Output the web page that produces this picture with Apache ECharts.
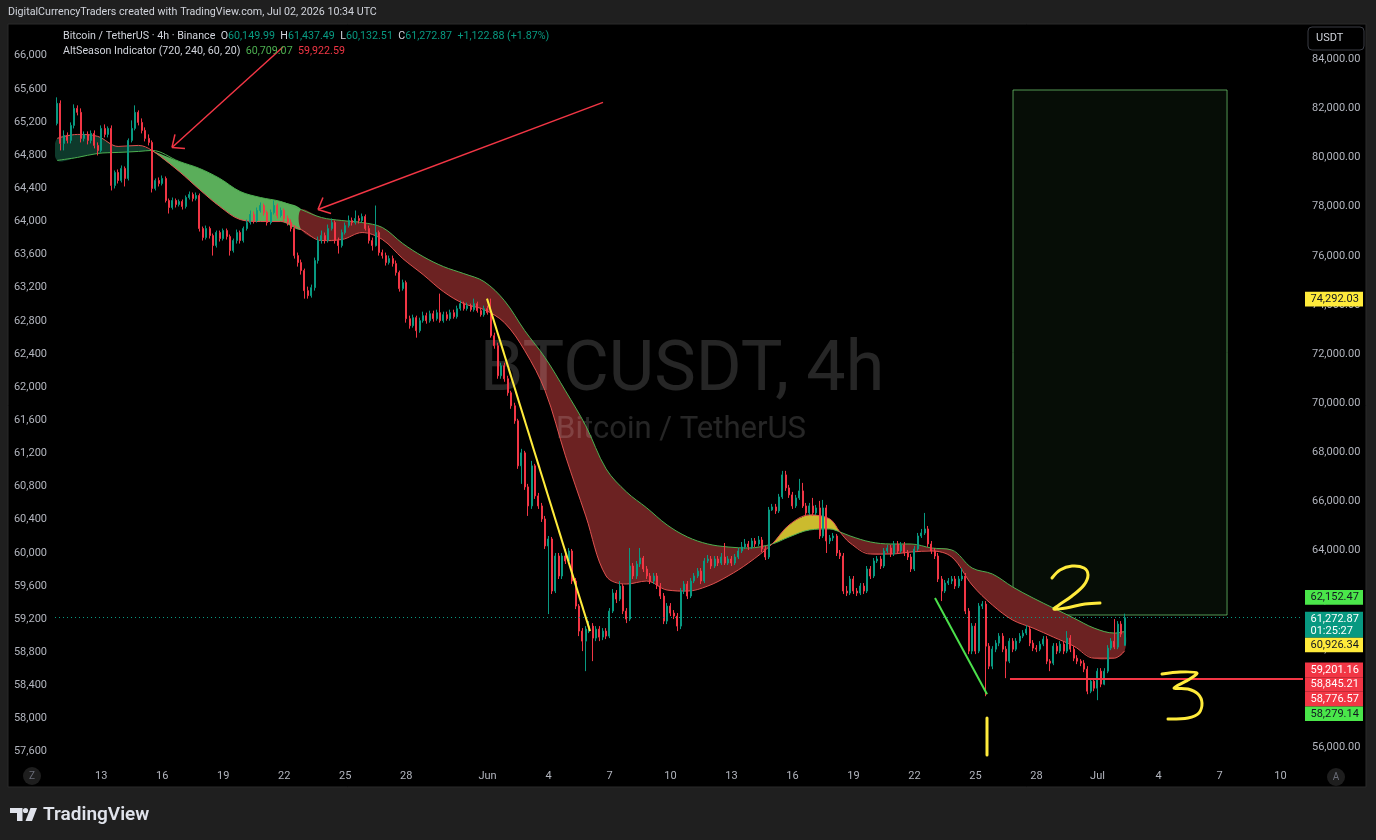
<!DOCTYPE html>
<html><head><meta charset="utf-8">
<script src="https://cdn.jsdelivr.net/npm/echarts@6/dist/echarts.min.js"></script>
<style>html,body{margin:0;padding:0;background:#1f1f1f;}#c{width:1376px;height:840px;}</style>
</head><body><div id="c"></div>
<script>
// time unit: hours since 2026-05-01 00:00 UTC; first candle May 10 20:00, 4h candles
const startHour = 236;
const stepHours = 4;
const opens = [81392,82207,80577,80902,80699,81310,82003,81840,80780,80943,80699,80984,80495,80291,81188,80943,81188,78865,79395,79068,79558,79150,80699,81188,81840,81432,81106,80780,80617,78743,79068,78946,79150,78253,77968,78253,78090,78212,78009,78375,78498,78335,78457,77112,76745,77112,76827,76419,76949,76705,77030,76786,76215,76623,76949,76623,77112,77356,77683,77438,77846,78049,77764,77356,77764,78049,77642,77846,77520,77356,77112,76011,75726,75400,74585,74381,74707,75808,76623,76827,76623,77112,77356,76623,76419,76949,77234,77438,77356,77520,77438,77601,77112,76623,76419,76949,76134,76011,75726,75889,75685,75319,74667,74911,73444,73159,73485,72955,73362,73566,73362,73648,73444,73688,73362,73607,73444,73688,73525,73852,74055,73852,73974,73811,74055,73770,73607,73852,73688,72751,72343,71121,71528,70998,70428,69898,69287,67453,67982,66597,65822,67453,66230,65822,65292,64192,64477,62358,63784,62970,63784,63581,63988,62766,61747,60728,60320,60809,60931,60442,60809,60483,60728,60524,61543,62277,62032,62562,61543,61217,63377,62970,63458,63703,63255,62970,62766,62970,62562,62155,61135,61747,61462,61339,60931,62358,62643,62155,62766,62970,63173,62766,63581,63662,63377,63662,63499,63743,63499,63662,63499,63743,63988,64151,64273,64151,64396,64273,64436,64070,63743,65659,65781,65619,66189,67086,66556,66271,65822,66149,66434,65822,65537,65822,65537,65741,64599,65741,64396,64518,64599,63907,63784,62358,62277,62847,62358,62277,62562,62358,63255,62970,63581,63662,63377,63988,64110,63866,64273,63988,64233,63907,63743,63255,64070,64599,64722,64885,64273,63988,63784,62847,62358,62684,62766,62847,62562,62847,62970,61543,59913,60931,59913,61747,61828,60116,59301,59994,60239,60524,59994,59505,60320,59994,60320,60524,60646,60809,60239,60035,59994,60198,60402,59505,59424,60116,59913,60198,59913,60442,59994,59627,59505,59424,59179,58282,58690,58404,59098,58567,59098,60035,60320,60076,61013,60149.99];
const closes = [82207,80577,80902,80699,81310,82003,81840,80780,80943,80699,80984,80495,80291,81188,80943,81188,78865,79395,79068,79558,79150,80699,81188,81840,81432,81106,80780,80617,78743,79068,78946,79150,78253,77968,78253,78090,78212,78009,78375,78498,78335,78457,77112,76745,77112,76827,76419,76949,76705,77030,76786,76215,76623,76949,76623,77112,77356,77683,77438,77846,78049,77764,77356,77764,78049,77642,77846,77520,77356,77112,76011,75726,75400,74585,74381,74707,75808,76623,76827,76623,77112,77356,76623,76419,76949,77234,77438,77356,77520,77438,77601,77112,76623,76419,76949,76134,76011,75726,75889,75685,75319,74667,74911,73444,73159,73485,72955,73362,73566,73362,73648,73444,73688,73362,73607,73444,73688,73525,73852,74055,73852,73974,73811,74055,73770,73607,73852,73688,72751,72343,71121,71528,70998,70428,69898,69287,67453,67982,66597,65822,67453,66230,65822,65292,64192,64477,62358,63784,62970,63784,63581,63988,62766,61747,60728,60320,60809,60931,60442,60809,60483,60728,60524,61543,62277,62032,62562,61543,61217,63377,62970,63458,63703,63255,62970,62766,62970,62562,62155,61135,61747,61462,61339,60931,62358,62643,62155,62766,62970,63173,62766,63581,63662,63377,63662,63499,63743,63499,63662,63499,63743,63988,64151,64273,64151,64396,64273,64436,64070,63743,65659,65781,65619,66189,67086,66556,66271,65822,66149,66434,65822,65537,65822,65537,65741,64599,65741,64396,64518,64599,63907,63784,62358,62277,62847,62358,62277,62562,62358,63255,62970,63581,63662,63377,63988,64110,63866,64273,63988,64233,63907,63743,63255,64070,64599,64722,64885,64273,63988,63784,62847,62358,62684,62766,62847,62562,62847,62970,61543,59913,60931,59913,61747,61828,60116,59301,59994,60239,60524,59994,59505,60320,59994,60320,60524,60646,60809,60239,60035,59994,60198,60402,59505,59424,60116,59913,60198,59913,60442,59994,59627,59505,59424,59179,58282,58690,58404,59098,58567,59098,60035,60320,60076,61013,60605,61272.87];
const highs = [82451,82329,81106,81024,81432,82166,82125,82003,81065,81065,81106,81106,80617,81310,81351,81270,81310,79476,79517,79680,79640,80780,81514,82125,81921,81595,81229,80943,80699,79150,79191,79272,79232,78335,78375,78335,78294,78294,78457,78620,78580,78580,78539,77193,77234,77193,76908,77030,77030,77112,77112,76868,76705,77071,77030,77193,77479,77846,77805,77968,78172,78131,77846,77886,78253,78131,77968,77927,77642,77479,77234,76134,75848,75482,74748,74830,75930,76786,77030,76949,77275,77520,77438,76745,77071,77356,77642,77560,77846,77642,77723,77683,77234,76745,78049,77030,76256,76134,76011,76011,75808,75400,75033,74993,73566,73607,73566,73485,73729,73688,73770,73770,73811,74463,73729,73729,73811,73811,73974,74178,74137,74096,74055,74259,74137,73892,73974,73974,74259,72873,72466,71651,71651,71121,70509,70021,69368,68145,68064,66719,67656,67534,66352,65944,65415,64599,64559,63907,63907,63907,64070,64110,64070,62888,61828,60850,60931,61135,61054,60931,60931,60850,60850,61665,62440,62399,62766,62643,61665,64110,63499,63581,64110,63784,63377,63092,63092,63092,62684,62277,61869,61869,61584,61462,62481,62766,62766,62888,63092,63295,63295,63703,63825,63784,63784,63784,63907,64314,63784,63784,63866,64110,64355,64477,64396,64518,64518,64599,64559,64192,65781,65904,65904,66312,67249,67249,66678,66393,66271,66923,66760,65944,65944,66149,65863,66026,66067,65863,64640,64722,64681,64029,63907,62562,62970,62970,62481,62684,62684,63377,63377,63703,63784,63784,64110,64233,64233,64396,64396,64355,64355,64029,63866,64192,64722,64885,65537,65007,64396,64110,63907,62970,62807,62888,62970,62970,62970,63295,63092,61665,61054,61054,61869,61950,61950,60239,60116,60361,60646,60646,60116,60442,60442,60442,60646,60768,60972,60931,60361,60157,60320,60524,60524,59586,60239,60239,60320,60320,60728,60565,60116,59749,59586,59546,59301,58812,58812,59220,59220,59220,60157,60442,61217,61135,61135,61437.49];
const lows = [81310,80291,80291,80577,80577,81188,81718,80617,80658,80536,80577,80373,80087,80210,80821,80821,78661,78743,78946,78987,78824,79068,80617,81106,81310,80984,80658,80495,78580,78661,78824,78865,78172,77723,77886,77968,78009,77886,77927,78294,78212,78253,76990,76623,76664,76705,76011,76338,76582,76623,76664,76011,76134,76501,76501,76542,77030,77275,77316,77356,77764,77642,77234,77275,77683,77520,77560,77397,77234,76990,75889,75563,75237,74259,74259,74300,74585,75685,76501,76501,76542,77030,76501,76093,76338,76868,77153,77234,77275,77316,77356,77030,76501,76215,76378,76011,75889,75604,75645,75563,75196,74544,74585,73281,73036,73077,72670,72873,73281,73240,73281,73322,73362,73281,73281,73362,73362,73444,73444,73770,73770,73770,73729,73729,73688,73525,73525,73607,72670,72221,70998,70998,70876,70306,69776,69165,67331,66719,66475,65415,65700,66108,65700,65170,64070,61421,62236,62277,62847,62847,63458,63458,62643,61624,60524,59913,59098,60646,59505,60320,60320,60361,60402,60442,61462,61869,61950,61421,61054,61135,62847,62847,63336,63133,62847,62643,62643,62440,62032,61013,61013,61339,61217,60728,60809,62236,62032,62073,62684,62888,62643,62684,63499,63255,63295,63377,63418,63418,63418,63377,63418,63662,63907,64070,64029,64070,64151,64192,63947,63621,63662,65619,65496,65537,66108,66434,66149,65700,65741,66067,65741,65415,65455,65415,65455,64477,64518,63907,64273,64396,63784,63662,62236,62155,62195,62236,62155,62195,62236,62277,62847,62888,63499,63255,63295,63907,63743,63784,63866,63907,63784,63621,63133,63173,63988,64518,64640,64151,63866,63662,62725,61950,62277,62603,62643,62440,62481,62766,61421,59790,59790,59790,59831,61624,58078,59179,59179,59872,60116,59872,58812,59424,59872,59913,60239,60442,60565,60116,59913,59872,59913,60116,59383,59098,59342,59790,59831,59790,59831,59872,59505,59383,59301,59057,58160,58201,58282,57916,58445,58526,59016,59953,59994,59994,60483,60132.51];

// AltSeason Indicator lines (sampled)
const bandHours = [236,260,284,308,332,348,380,404,428,452,476,500,524,548,572,596,620,644,668,692,716,740,764,788,812,836,860,884,908,932,956,980,1004,1028,1052,1080,1100,1124,1148,1160,1172,1196,1220,1244,1268,1292,1316,1340,1364,1388,1412,1436,1460,1484,1496];
const altSlow = [79884,80006,80169,80210,80250,80291,79843,79558,79150,78620,78375,78212,77886,77560,77438,77356,77153,76501,75970,75563,75278,74952,74178,72955,71855,70509,69083,67331,66393,65741,65048,64559,64273,64151,64110,64273,64559,64844,64885,64763,64599,64355,64273,64273,64110,64029,63295,63051,62521,62073,61665,61258,60850,60646,60709.07];
const altFast = [80780,80943,80862,80454,80495,80291,79436,78702,78009,77479,77397,77397,77071,76623,76664,76949,76664,75889,75237,74544,74055,73811,73281,72140,70509,67860,65415,62970,62643,62766,62399,62358,62562,62970,63499,64273,65048,65455,65292,64763,64314,63866,63866,63947,63988,63743,62603,61788,61176,60850,60483,60116,59627,59627,59922.59];
const bandSegments = [
  {from:0, to:5, color:'#0e392b'},
  {from:5, to:12, color:'#5aae5a'},
  {from:12, to:35, color:'#6c2222'},
  {from:35, to:39, color:'#cbbb2e'},
  {from:39, to:54, color:'#6c2222'}
];

const tickHours = [288,360,432,504,576,648,744,816,888,960,1032,1104,1176,1248,1320,1392,1464,1536,1608,1680];
const tickLabels = ['13','16','19','22','25','28','Jun','4','7','10','13','16','19','22','25','28','Jul','4','7','10'];
const leftTicks = [57600,58000,58400,58800,59200,59600,60000,60400,60800,61200,61600,62000,62400,62800,63200,63600,64000,64400,64800,65200,65600,66000];
const rightTicks = [56000,58000,60000,62000,64000,66000,68000,70000,72000,74000,76000,78000,80000,82000,84000];

const lastPrice = 61272.87;
// drawings in [hour, price]
const drawings = [
  {color:'#f23645', width:1.5, pts:[[502.6,84500],[371.6,80413]]},
  {color:'#f23645', width:1.5, pts:[[371.6,80413],[386.9,80373]]},
  {color:'#f23645', width:1.5, pts:[[371.6,80413],[375.1,80943]]},
  {color:'#f23645', width:1.5, pts:[[880.3,82247],[543.9,77886]]},
  {color:'#f23645', width:1.5, pts:[[543.9,77886],[559.3,77723]]},
  {color:'#f23645', width:1.5, pts:[[543.9,77886],[549.8,78376]]},
  {color:'#ffeb3b', width:2, pts:[[743.4,74259],[865,60728]]},
  {color:'#4be04b', width:2, pts:[[1272.2,62073],[1333.6,58160]]},
  {color:'#f23645', width:2, pts:[[1360.7,58776.57],[1706.56,58776.57]]}
];
const rectBox = [[1364.3,82750],[1616.9,61383]];
const tags = [
  {price:74292.03, bg:'#ffeb3b', fg:'#131722', text:'74,292.03'},
  {price:62152.47, bg:'#4ae64a', fg:'#131722', text:'62,152.47'},
  {price:61272.87, bg:'#089981', fg:'#ffffff', text:'61,272.87', sub:'01:25:27'},
  {price:60926.34, bg:'#ffeb3b', fg:'#131722', text:'60,926.34'},
  {price:59201.16, bg:'#f23645', fg:'#ffffff', text:'59,201.16'},
  {price:58845.21, bg:'#f23645', fg:'#ffffff', text:'58,845.21'},
  {price:58776.57, bg:'#f23645', fg:'#ffffff', text:'58,776.57'},
  {price:58279.14, bg:'#4ae64a', fg:'#131722', text:'58,279.14'}
];

const FONT = 'Roboto, "Noto Sans", sans-serif';
const SMOOTH = 0.35;
const chart = echarts.init(document.getElementById('c'));
const candleData = closes.map((c, i) => [startHour + i * stepHours, opens[i], c, lows[i], highs[i]]);

const series = [];
// band fills between the two indicator lines, one polygon per colour segment
bandSegments.forEach(s => {
  const segData = [];
  for (let j = s.from; j <= s.to; j++) segData.push([bandHours[j], altSlow[j], altFast[j]]);
  series.push({
    type:'custom', yAxisIndex:1, silent:true, z:1, clip:true,
    encode:{x:0, y:[1,2]},
    data:segData,
    renderItem:(params, api) => {
      if (params.dataIndex !== 0) return null;
      const a = [], b = [];
      segData.forEach(d => { a.push(api.coord([d[0], d[1]])); b.push(api.coord([d[0], d[2]])); });
      return {type:'polygon', shape:{points:a.concat(b.reverse()), smooth:SMOOTH}, style:{fill:s.color}};
    }
  });
});
series.push({type:'line', yAxisIndex:1, data:bandHours.map((h, j) => [h, altSlow[j]]), smooth:SMOOTH, symbol:'none', silent:true, z:2,
  lineStyle:{color:'#4caf50', width:1}});
series.push({type:'line', yAxisIndex:1, data:bandHours.map((h, j) => [h, altFast[j]]), smooth:SMOOTH, symbol:'none', silent:true, z:2,
  lineStyle:{color:'#e0514f', width:1}});
series.push({
  type:'candlestick', yAxisIndex:1, data:candleData, z:3, silent:true, barWidth:1.5,
  encode:{x:0, y:[1,2,3,4]},
  itemStyle:{color:'#089981', color0:'#f23645', borderColor:'#089981', borderColor0:'#f23645', borderWidth:1},
  markLine:{silent:true, symbol:['none','none'], label:{show:false}, animation:false,
    data:[{yAxis:lastPrice, lineStyle:{color:'#089981', type:[1,3], width:1}}].concat(
      drawings.map(d => [{coord:d.pts[0], lineStyle:{color:d.color, width:d.width, type:'solid'}}, {coord:d.pts[1]}]))},
  markArea:{silent:true, itemStyle:{color:'rgba(80,175,80,0.075)', borderColor:'rgba(110,200,110,0.75)', borderWidth:1},
    data:[[{coord:rectBox[0]}, {coord:rectBox[1]}]]}
});

const lbl = {color:'#b2b5be', fontSize:11, fontFamily:FONT};
const option = {
  backgroundColor:'#1f1f1f',
  animation:false,
  grid:{left:55, right:73, top:24, bottom:78},
  xAxis:{type:'value', min:233.51, max:1706.56, axisLine:{show:false}, axisTick:{show:false}, splitLine:{show:false},
    axisLabel:Object.assign({customValues:tickHours, margin:9, formatter:v => { const i = tickHours.indexOf(v); return i >= 0 ? tickLabels[i] : ''; }}, lbl)},
  yAxis:[
    {type:'value', position:'left', min:57475, max:66382.6, axisLine:{show:false}, axisTick:{show:false}, splitLine:{show:false},
      axisLabel:Object.assign({customValues:leftTicks, margin:8, formatter:v => v.toLocaleString('en-US')}, lbl)},
    {type:'value', position:'right', min:55400.1, max:85436.7, axisLine:{show:false}, axisTick:{show:false}, splitLine:{show:false},
      axisLabel:Object.assign({customValues:rightTicks, margin:9, formatter:v => v.toLocaleString('en-US', {minimumFractionDigits:2, maximumFractionDigits:2})}, lbl)}
  ],
  series:series
};
chart.setOption(option);

const F = '10.7px ' + FONT;
const WM = 'rgba(255,255,255,0.15)';
const g = [];
g.push({type:'rect', z:-10, shape:{x:8, y:24, width:1358, height:763}, style:{fill:'#000000', stroke:'#2b2b2b', lineWidth:1}});
g.push({type:'text', z:1.5, silent:true, x:682, y:372, style:{text:'BTCUSDT, 4h', fill:WM, font:'70px ' + FONT, align:'center', verticalAlign:'middle'}});
g.push({type:'text', z:1.5, silent:true, x:681, y:430, style:{text:'Bitcoin / TetherUS', fill:WM, font:'31px ' + FONT, align:'center', verticalAlign:'middle'}});
g.push({type:'text', z:10, x:8, y:12.5, style:{text:'DigitalCurrencyTraders created with TradingView.com, Jul 02, 2026 10:34 UTC', fill:'#d1d4dc', font:F, verticalAlign:'middle'}});
g.push({type:'text', z:10, x:63, y:36.5, style:{
  text:'{a|Bitcoin / TetherUS · 4h · Binance}  {a|O}{v|60,149.99}  {a|H}{v|61,437.49}  {a|L}{v|60,132.51}  {a|C}{v|61,272.87}  {v|+1,122.88 (+1.87%)}',
  font:F, fill:'#d1d4dc', verticalAlign:'middle',
  rich:{a:{fill:'#d1d4dc', font:F}, v:{fill:'#089981', font:F}}}});
g.push({type:'text', z:10, x:63, y:51.5, style:{
  text:'{a|AltSeason Indicator (720, 240, 60, 20)}  {gr|60,709.07}  {rd|59,922.59}',
  font:F, fill:'#d1d4dc', verticalAlign:'middle',
  rich:{a:{fill:'#d1d4dc', font:F}, gr:{fill:'#4caf50', font:F}, rd:{fill:'#f23645', font:F}}}});
// USDT button
g.push({type:'rect', z:10, shape:{x:1308, y:27, width:56, height:23, r:4}, style:{fill:'#000', stroke:'#3a3d45', lineWidth:1}});
g.push({type:'text', z:11, x:1316, y:38.5, style:{text:'USDT', fill:'#d1d4dc', font:'11px ' + FONT, verticalAlign:'middle'}});
// Z / A buttons
g.push({type:'circle', z:10, shape:{cx:32, cy:776, r:9}, style:{fill:'#1e1e1e'}});
g.push({type:'text', z:11, x:32, y:776.5, style:{text:'Z', fill:'#6a6d78', font:'10px ' + FONT, align:'center', verticalAlign:'middle'}});
g.push({type:'circle', z:10, shape:{cx:1336, cy:777, r:9}, style:{fill:'#1e1e1e'}});
g.push({type:'text', z:11, x:1336, y:777.5, style:{text:'A', fill:'#6a6d78', font:'10px ' + FONT, align:'center', verticalAlign:'middle'}});
// hand drawn digits
const pen = {stroke:'#ffeb3b', lineWidth:3, lineCap:'round', lineJoin:'round', fill:null};
g.push({type:'polyline', z:20, shape:{smooth:0.35, points:[[1052,578],[1060,570],[1072,566],[1084,568],[1088,575],[1084,585],[1072,596],[1059,605],[1054,609],[1066,608],[1085,604],[1100,603]]}, style:pen});
g.push({type:'polyline', z:20, shape:{smooth:0.3, points:[[1162,674],[1180,672],[1197,673],[1188,680],[1174,688],[1188,689],[1198,694],[1202,703],[1199,713],[1188,718],[1168,719]]}, style:pen});
g.push({type:'polyline', z:20, shape:{points:[[987,718],[987,755]]}, style:pen});
// TradingView logo
g.push({type:'polygon', z:10, shape:{points:[[10,808],[22.5,808],[22.5,821],[17,821],[17,813],[10,813]]}, style:{fill:'#e0e3eb'}});
g.push({type:'circle', z:10, shape:{cx:25.5, cy:810.5, r:2.6}, style:{fill:'#e0e3eb'}});
g.push({type:'polygon', z:10, shape:{points:[[30.5,808],[37,808],[32,821],[25.5,821]]}, style:{fill:'#e0e3eb'}});
g.push({type:'text', z:10, x:43, y:815, style:{text:'TradingView', fill:'#e0e3eb', font:'600 19px ' + FONT, verticalAlign:'middle'}});
// price tags on right scale
let prevBottom = -Infinity;
tags.forEach(t => {
  const y = chart.convertToPixel({yAxisIndex:1}, t.price);
  const h = t.sub ? 26 : 14.6;
  const top = Math.max(y - 6, prevBottom);
  prevBottom = top + h;
  g.push({type:'rect', z:100, shape:{x:1305, y:top, width:58, height:h}, style:{fill:t.bg}});
  g.push({type:'text', z:101, x:1310.5, y:top + 7.4, style:{text:t.text, fill:t.fg, font:'11px ' + FONT, verticalAlign:'middle'}});
  if (t.sub) g.push({type:'text', z:101, x:1310.5, y:top + 19.4, style:{text:t.sub, fill:t.fg, font:'11px ' + FONT, verticalAlign:'middle'}});
});
chart.setOption({graphic:{elements:g}});
</script></body></html>
